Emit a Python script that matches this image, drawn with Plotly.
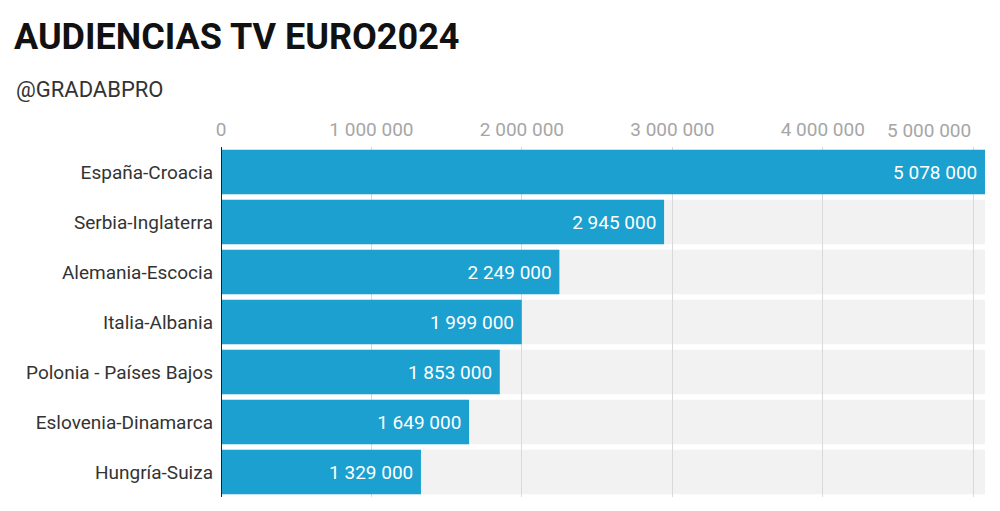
import plotly.graph_objects as go

categories = ["España-Croacia", "Serbia-Inglaterra", "Alemania-Escocia", "Italia-Albania",
              "Polonia - Países Bajos", "Eslovenia-Dinamarca", "Hungría-Suiza"]
audiencia = [5078000, 2945000, 2249000, 1999000, 1853000, 1649000, 1329000]
tick_vals = [0, 1000000, 2000000, 3000000, 4000000]
last_tick = 5000000

BAR = "#1ba0cf"
BAND = "#f2f2f2"
FONT = "Roboto"

# page body has an 8px margin, so the figure is drawn 8px in from the top-left
W, H = 992, 503
ML, MR, MT, MB = 213, 15, 139, 14
xmax = max(audiencia)
bar_w = 0.89
PH = H - MT - MB
PW = W - ML - MR

fig = go.Figure()
fig.add_trace(go.Bar(
    y=categories, x=audiencia, orientation="h",
    marker=dict(color=BAR, line=dict(width=0)),
    width=bar_w,
    texttemplate="%{x:,d}\u00a0",
    textposition="inside", insidetextanchor="end",
    textfont=dict(color="white", size=19, family=FONT),
    constraintext="none",
    hoverinfo="skip",
))

shapes = []
for i, c in enumerate(categories):
    shapes.append(dict(type="rect", xref="x", yref="y", layer="below",
                       x0=0, x1=xmax, y0=i - bar_w / 2, y1=i + bar_w / 2,
                       fillcolor=BAND, line=dict(width=0)))

annotations = [
    dict(text="@GRADABPRO", xref="paper", yref="paper",
         x=(6 - ML) / PW, y=1 + (MT - 81) / PH,
         xanchor="left", yanchor="middle", showarrow=False,
         font=dict(family=FONT, size=22, color="#333333")),
    dict(text=f"{last_tick:,d}".replace(",", " "), xref="x", yref="paper",
         x=last_tick, y=1 + 17 / PH, xanchor="right", yanchor="middle",
         showarrow=False, font=dict(family=FONT, size=19, color="#a6a6a6")),
]

fig.update_layout(
    width=W, height=H,
    margin=dict(l=ML, r=MR, t=MT, b=MB),
    paper_bgcolor="white", plot_bgcolor="white",
    separators=". ",
    showlegend=False,
    title=dict(text="<b>AUDIENCIAS TV EURO2024</b>", xref="container", yref="container",
               x=6 / W, y=1 - 28 / H, xanchor="left", yanchor="middle",
               font=dict(family=FONT, size=36, color="#111111")),
    xaxis=dict(side="top", range=[0, xmax], tickvals=tick_vals + [last_tick],
               ticktext=[f"{v:,d}".replace(",", " ") for v in tick_vals] + [""],
               showgrid=True, gridcolor="#d9d9d9", gridwidth=1,
               zeroline=False, showline=False, ticks="", ticklabelstandoff=6,
               tickfont=dict(family=FONT, size=19, color="#a6a6a6"),
               fixedrange=True),
    yaxis=dict(autorange="reversed", showgrid=False, ticks="", ticklabelstandoff=7,
               tickfont=dict(family=FONT, size=19, color="#333333"),
               showline=False, zeroline=False),
    shapes=shapes + [dict(type="line", xref="x", yref="paper", x0=0, x1=0, y0=0, y1=1,
                          line=dict(color="#222222", width=2), layer="above")],
    annotations=annotations,
    bargap=0.11,
)

fig.write_html("out.html")
